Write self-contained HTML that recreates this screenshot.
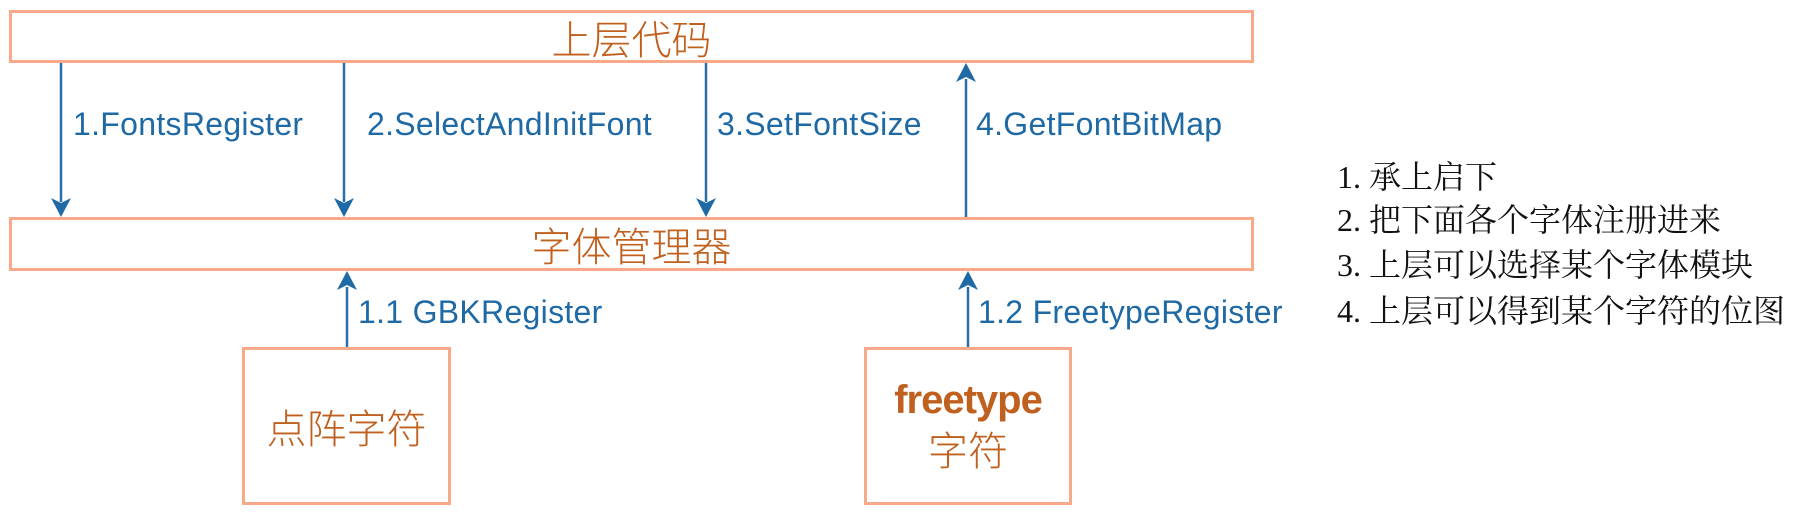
<!DOCTYPE html>
<html><head><meta charset="utf-8"><style>
body{margin:0;width:1817px;height:515px;background:#fff;overflow:hidden;position:relative;font-family:"Liberation Sans","Noto Sans CJK SC",sans-serif}
.box{position:absolute;border:3px solid #f8a98a;box-sizing:border-box;color:#c0601f;font-family:"Liberation Sans","Noto Sans CJK SC",sans-serif;display:flex;align-items:center;justify-content:center;text-align:center;font-weight:300}
.lbl{position:absolute;color:#1f6aa5;font-size:32px;letter-spacing:0.3px;white-space:nowrap;line-height:1}
.note{position:absolute;left:1337px;font-family:"Liberation Serif","Noto Serif CJK SC",serif;font-size:32px;line-height:1;white-space:nowrap;color:#111}
</style></head><body>
<div class="box" style="left:9px;top:10px;width:1245px;height:53px;font-size:40px;">上层代码</div>
<div class="box" style="left:9px;top:217px;width:1245px;height:54px;font-size:40px;">字体管理器</div>
<div class="box" style="left:242px;top:347px;width:209px;height:158px;font-size:40px;">点阵字符</div>
<div class="box" style="left:864px;top:347px;width:208px;height:158px;font-size:40px;flex-direction:column;line-height:52px;"><b style="font-size:40px;letter-spacing:-1px;font-weight:700">freetype</b><span>字符</span></div>
<svg width="1817" height="515" style="position:absolute;left:0;top:0">
<g stroke="#2a6fa8" stroke-width="2.5" fill="none">
<line x1="61" y1="63" x2="61" y2="202"/>
<line x1="344" y1="63" x2="344" y2="202"/>
<line x1="706" y1="63" x2="706" y2="202"/>
<line x1="966" y1="217" x2="966" y2="79"/>
<line x1="347" y1="347" x2="347" y2="287"/>
<line x1="968" y1="347" x2="968" y2="287"/>
</g>
<g fill="#1f6aa5">
<path d="M51,198 L61,217 L71,198 L61,203Z"/>
<path d="M334,198 L344,217 L354,198 L344,203Z"/>
<path d="M696,198 L706,217 L716,198 L706,203Z"/>
<path d="M956,82 L966,63 L976,82 L966,77Z"/>
<path d="M337,290 L347,271 L357,290 L347,285Z"/>
<path d="M958,290 L968,271 L978,290 L968,285Z"/>
</g>
</svg>
<div class="lbl" style="left:73px;top:108px">1.FontsRegister</div>
<div class="lbl" style="left:367px;top:108px">2.SelectAndInitFont</div>
<div class="lbl" style="left:717px;top:108px">3.SetFontSize</div>
<div class="lbl" style="left:976px;top:108px">4.GetFontBitMap</div>
<div class="lbl" style="left:358px;top:296px">1.1 GBKRegister</div>
<div class="lbl" style="left:978px;top:296px">1.2 FreetypeRegister</div>
<div class="note" style="top:161px">1. 承上启下</div>
<div class="note" style="top:204px">2. 把下面各个字体注册进来</div>
<div class="note" style="top:249px">3. 上层可以选择某个字体模块</div>
<div class="note" style="top:295px">4. 上层可以得到某个字符的位图</div>
</body></html>
